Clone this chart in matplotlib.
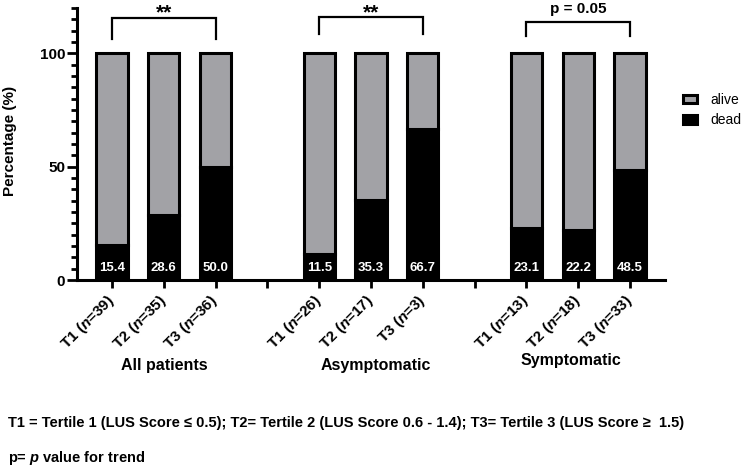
import matplotlib
matplotlib.use("Agg")
import matplotlib.pyplot as plt
from matplotlib.transforms import blended_transform_factory
import numpy as np

plt.rcParams['font.family'] = ['Liberation Sans', 'DejaVu Sans']
plt.rcParams['mathtext.fontset'] = 'custom'
plt.rcParams['mathtext.it'] = 'Liberation Sans:italic:bold'
plt.rcParams['mathtext.rm'] = 'Liberation Sans:bold'

# data
groups = ['All patients', 'Asymptomatic', 'Symptomatic']
tertiles = ['T1', 'T2', 'T3']
n_counts = [39, 35, 36, 26, 17, 3, 13, 18, 33]
dead = [15.4, 28.6, 50.0, 11.5, 35.3, 66.7, 23.1, 22.2, 48.5]
alive = [100 - d for d in dead]
significance = ['**', '**', 'p = 0.05']

positions = [0, 1, 2, 4, 5, 6, 8, 9, 10]
gray = '#a2a2a6'

fig = plt.figure(figsize=(7.49, 4.67), dpi=100)
ax = fig.add_axes([0.1028, 0.4004, 0.7851, 0.5825])

bw = 0.6
b_dead = ax.bar(positions, dead, width=bw, color='black', edgecolor='black', linewidth=2.2, label='dead')
b_alive = ax.bar(positions, alive, bottom=dead, width=bw, color=gray, edgecolor='black', linewidth=2.2, label='alive')

for p, d in zip(positions, dead):
    ax.text(p, 5.4, f'{d:.1f}', color='white', ha='center', va='center',
            fontsize=9.5, fontweight='bold')

ax.set_xlim(-0.676, 10.676)
ax.set_ylim(0, 120)
ax.spines['top'].set_visible(False)
ax.spines['right'].set_visible(False)
ax.spines['left'].set_linewidth(2.2)
ax.spines['bottom'].set_linewidth(2.2)

ax.set_yticks([0, 50, 100])
ax.set_yticks(np.arange(0, 121, 5), minor=True)
ax.tick_params(axis='y', which='major', length=7.5, width=2, labelsize=11, pad=1)
ax.tick_params(axis='y', which='minor', length=4, width=2)
for lab in ax.get_yticklabels():
    lab.set_fontweight('bold')

ax.set_xticks(range(11))
xlabels = []
k = 0
for i in range(11):
    if i in positions:
        xlabels.append(f'{tertiles[k % 3]} ($\\mathit{{n}}$={n_counts[k]})')
        k += 1
    else:
        xlabels.append('')
ax.set_xticklabels(xlabels, rotation=45, ha='right', va='center', rotation_mode='anchor',
                   fontsize=11, fontweight='bold')
ax.tick_params(axis='x', length=6, width=2, pad=7)

# brackets
brackets = [(0, 2, 115.5, 106.2), (4, 6, 116.0, 108.4), (8, 10, 113.7, 107.5)]
label_y = [115.3, 115.3, 117.6]
for (x0, x1, top, leg), s, ly in zip(brackets, significance, label_y):
    ax.plot([x0, x0, x1, x1], [leg, top, top, leg], color='black', lw=1.6,
            clip_on=False, solid_joinstyle='miter')
    fs = 15 if s == '**' else 11
    ax.text((x0 + x1) / 2, ly, s, ha='center', va='baseline', fontsize=fs,
            fontweight='bold', clip_on=False)

# group labels
trans = blended_transform_factory(ax.transData, ax.transAxes)
group_x = [1, 5.1, 8.85]
group_y = [-0.313, -0.313, -0.295]
for g, gx, gy in zip(groups, group_x, group_y):
    ax.text(gx, gy, g, transform=trans, ha='center', va='center', fontsize=11.5,
            fontweight='bold')

fig.text(10 / 749, 0.698, 'Percentage (%)', rotation=90, ha='center', va='center',
         fontsize=11, fontweight='bold')

fig.legend(handles=[b_alive, b_dead], labels=['alive', 'dead'], loc='center left',
           bbox_to_anchor=(0.895, 0.764), frameon=False, fontsize=10,
           handlelength=1.0, handleheight=0.55, handletextpad=1.0, labelspacing=0.45)

fig.text(8 / 749, 0.094, 'T1 = Tertile 1 (LUS Score \u2264 0.5); T2= Tertile 2 (LUS Score 0.6 - 1.4); '
         'T3= Tertile 3 (LUS Score \u2265  1.5)', ha='left', va='center', fontsize=10.5,
         fontweight='bold')
fig.text(8 / 749, 0.019, 'p= $\\mathit{p}$ value for trend', ha='left', va='center', fontsize=10.5,
         fontweight='bold')

fig.savefig('out.png', dpi=100)
